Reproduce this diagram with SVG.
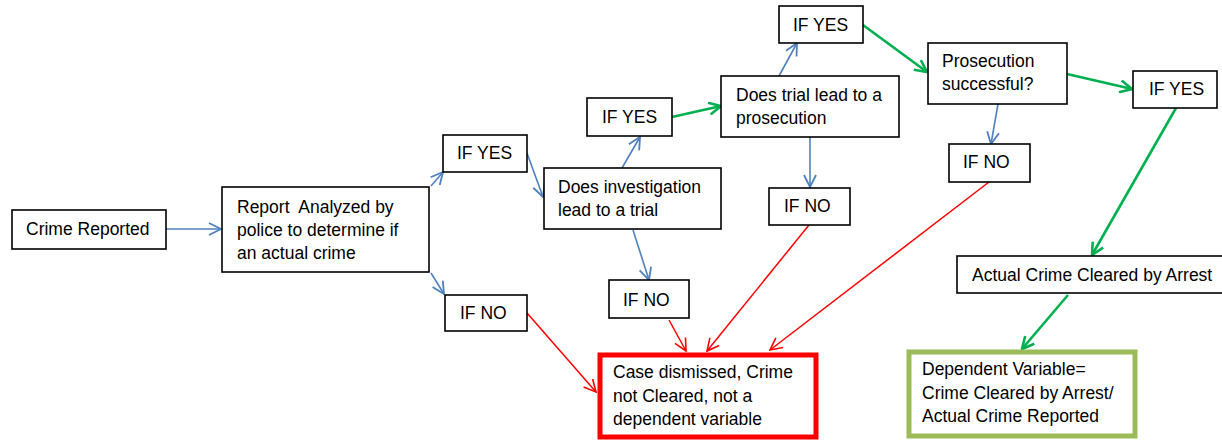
<svg xmlns="http://www.w3.org/2000/svg" width="1222" height="440" viewBox="0 0 1222 440">
<style>
.box{fill:#fff;stroke:#000;stroke-width:1.6}
.t{font-family:"Liberation Sans",Arial,sans-serif;font-size:17.5px;fill:#000}
.b{stroke:#4F81BD;stroke-width:1.6;fill:none;marker-end:url(#ab)}
.g{stroke:#00B050;stroke-width:2.6;fill:none;marker-end:url(#ag)}
.r{stroke:#FF0000;stroke-width:1.5;fill:none;marker-end:url(#ar)}
</style>
<defs>
<marker id="ab" viewBox="0 0 14 14" refX="13" refY="7" markerWidth="14" markerHeight="14" markerUnits="userSpaceOnUse" orient="auto"><path d="M1,1 L13,7 L1,13" fill="none" stroke="#4F81BD" stroke-width="1.8"/></marker>
<marker id="ag" viewBox="0 0 14 14" refX="13" refY="7" markerWidth="14" markerHeight="14" markerUnits="userSpaceOnUse" orient="auto"><path d="M1,1 L13,7 L1,13" fill="none" stroke="#00B050" stroke-width="2.6"/></marker>
<marker id="ar" viewBox="0 0 14 14" refX="13" refY="7" markerWidth="14" markerHeight="14" markerUnits="userSpaceOnUse" orient="auto"><path d="M1,1 L13,7 L1,13" fill="none" stroke="#FF0000" stroke-width="1.6"/></marker>
</defs>
<rect width="1222" height="440" fill="#fff"/>
<g id="connectors">
<line class="b" x1="166" y1="229" x2="221" y2="229"/>
<line class="b" x1="431" y1="186" x2="443" y2="172"/>
<line class="b" x1="431" y1="273" x2="444" y2="294"/>
<line class="b" x1="527" y1="153" x2="543" y2="197"/>
<line class="b" x1="622" y1="168" x2="640" y2="137"/>
<line class="b" x1="633" y1="230" x2="649" y2="280"/>
<line class="g" x1="672" y1="117" x2="721" y2="106"/>
<line class="b" x1="779" y1="76" x2="797" y2="43"/>
<line class="b" x1="810" y1="137" x2="810" y2="187"/>
<line class="g" x1="863" y1="25" x2="927" y2="72"/>
<line class="g" x1="1067" y1="74" x2="1132" y2="89"/>
<line class="b" x1="998" y1="104" x2="991" y2="144"/>
<line class="g" x1="1176" y1="108" x2="1092" y2="255"/>
<line class="g" x1="1068" y1="295" x2="1022" y2="349"/>
<line class="r" x1="527" y1="313" x2="596" y2="392"/>
<line class="r" x1="669" y1="320" x2="686" y2="351"/>
<line class="r" x1="809" y1="225" x2="707" y2="351"/>
<line class="r" x1="989" y1="182" x2="770" y2="350"/>
</g>
<g id="crime-reported"><rect class="box" x="12" y="210" width="154" height="39"/><text class="t" x="26" y="235">Crime Reported</text></g>
<g id="report-analyzed"><rect class="box" x="222" y="187" width="207" height="85"/><text class="t" x="237" y="213" xml:space="preserve">Report  Analyzed by</text><text class="t" x="237" y="236">police to determine if</text><text class="t" x="237" y="259">an actual crime</text></g>
<g id="if-yes-1"><rect class="box" x="443" y="135" width="84" height="37"/><text class="t" x="457" y="159">IF YES</text></g>
<g id="if-no-1"><rect class="box" x="445" y="295" width="82" height="36"/><text class="t" x="460" y="319">IF NO</text></g>
<g id="does-investigation"><rect class="box" x="544" y="168" width="177" height="61"/><text class="t" x="558" y="193">Does investigation</text><text class="t" x="558" y="216">lead to a trial</text></g>
<g id="if-yes-2"><rect class="box" x="587" y="98" width="85" height="38"/><text class="t" x="602" y="123">IF YES</text></g>
<g id="if-no-3"><rect class="box" x="609" y="280" width="80" height="38"/><text class="t" x="623" y="306">IF NO</text></g>
<g id="does-trial"><rect class="box" x="721" y="76" width="178" height="61"/><text class="t" x="736" y="101">Does trial lead to a</text><text class="t" x="736" y="124">prosecution</text></g>
<g id="if-yes-3"><rect class="box" x="779" y="6" width="84" height="37"/><text class="t" x="793" y="31">IF YES</text></g>
<g id="if-no-2"><rect class="box" x="769" y="188" width="81" height="37"/><text class="t" x="784" y="212">IF NO</text></g>
<g id="prosecution"><rect class="box" x="928" y="43" width="139" height="61"/><text class="t" x="942" y="67">Prosecution</text><text class="t" x="942" y="90">successful?</text></g>
<g id="if-yes-4"><rect class="box" x="1133" y="71" width="84" height="37"/><text class="t" x="1149" y="95">IF YES</text></g>
<g id="if-no-4"><rect class="box" x="949" y="144" width="81" height="38"/><text class="t" x="963" y="168">IF NO</text></g>
<g id="actual-crime-cleared"><rect class="box" x="957" y="256" width="266" height="37"/><text class="t" x="972" y="281">Actual Crime Cleared by Arrest</text></g>
<g id="case-dismissed"><rect x="600" y="355" width="216" height="82" fill="#fff" stroke="#FF0000" stroke-width="5"/><text class="t" x="613" y="378">Case dismissed, Crime</text><text class="t" x="613" y="402">not Cleared, not a</text><text class="t" x="613" y="425">dependent variable</text></g>
<g id="dependent-variable"><rect x="909" y="352" width="226" height="84" fill="#fff" stroke="#9BBB59" stroke-width="5"/><text class="t" x="922" y="375">Dependent Variable=</text><text class="t" x="922" y="399">Crime Cleared by Arrest/</text><text class="t" x="922" y="422">Actual Crime Reported</text></g>
</svg>
